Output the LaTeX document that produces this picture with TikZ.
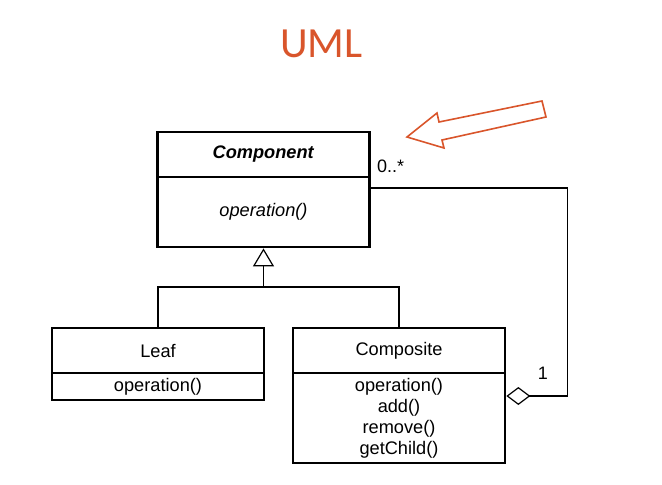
\documentclass[tikz,border=0pt]{standalone}
\usepackage{fontspec}
\setmainfont{Liberation Sans}
\newfontfamily\titlefont{Carlito}
\usetikzlibrary{arrows.meta,calc}

\begin{document}
\begin{tikzpicture}[x=1pt, y=-1pt,
  classbox/.style={draw, line width=2.8pt, minimum width=212pt, inner sep=0pt,
    font=\fontsize{18.2}{21}\selectfont, align=center},
  link/.style={line width=1.2pt},
  mult/.style={font=\fontsize{18}{21}\selectfont, inner sep=0pt}]
\definecolor{accent}{HTML}{D9552B}
\useasboundingbox (0,0) rectangle (662,485);
% title
\node[text = accent] (title) at (321.5,44) {\titlefont\fontsize{43}{43}\selectfont UML};
% classes
\node[classbox, minimum height=45pt] (comp) at (263.5,154.5) {\textbf{\textit{Component}}};
\node[classbox, minimum height=70pt] (compops) at (263.5,212) {\textit{operation()}};
\node[classbox, minimum height=45pt] (leaf) at (158,350.5) {Leaf};
\node[classbox, minimum height=27pt] (leafops) at (158,386.5) {operation()};
\node[classbox, minimum height=45pt] (compo) at (399,350.5) {Composite};
\node[classbox, minimum height=90pt] (compoops) at (399,418) {operation()\\add()\\remove()\\getChild()};
% inheritance
\coordinate (jn) at (263.5,287);
\draw[link] (leaf.north) |- (jn) -| (compo.north);
\draw[link, -{Triangle[open, length=18pt, width=21pt, line width=1.2pt]}] (jn) -- (compops.south);
% aggregation
\draw[link, {Diamond[open, length=24pt, width=18pt, line width=1.2pt]}-]
  ($(compoops.east)+(0,-22)$) -- ++(61,0) |- ($(compops.east)+(0,-24)$);
\node[mult, anchor=west] (many) at (377,166) {0..*};
\node[mult] (one) at (543,373) {1};
% pointer
\draw[accent, line width=1.6pt, line join=miter] (407,137) -- (437,113) -- (439,122) -- (542,101)
  -- (546,117) -- (442,140) -- (444,148) -- cycle;
\end{tikzpicture}
\end{document}
